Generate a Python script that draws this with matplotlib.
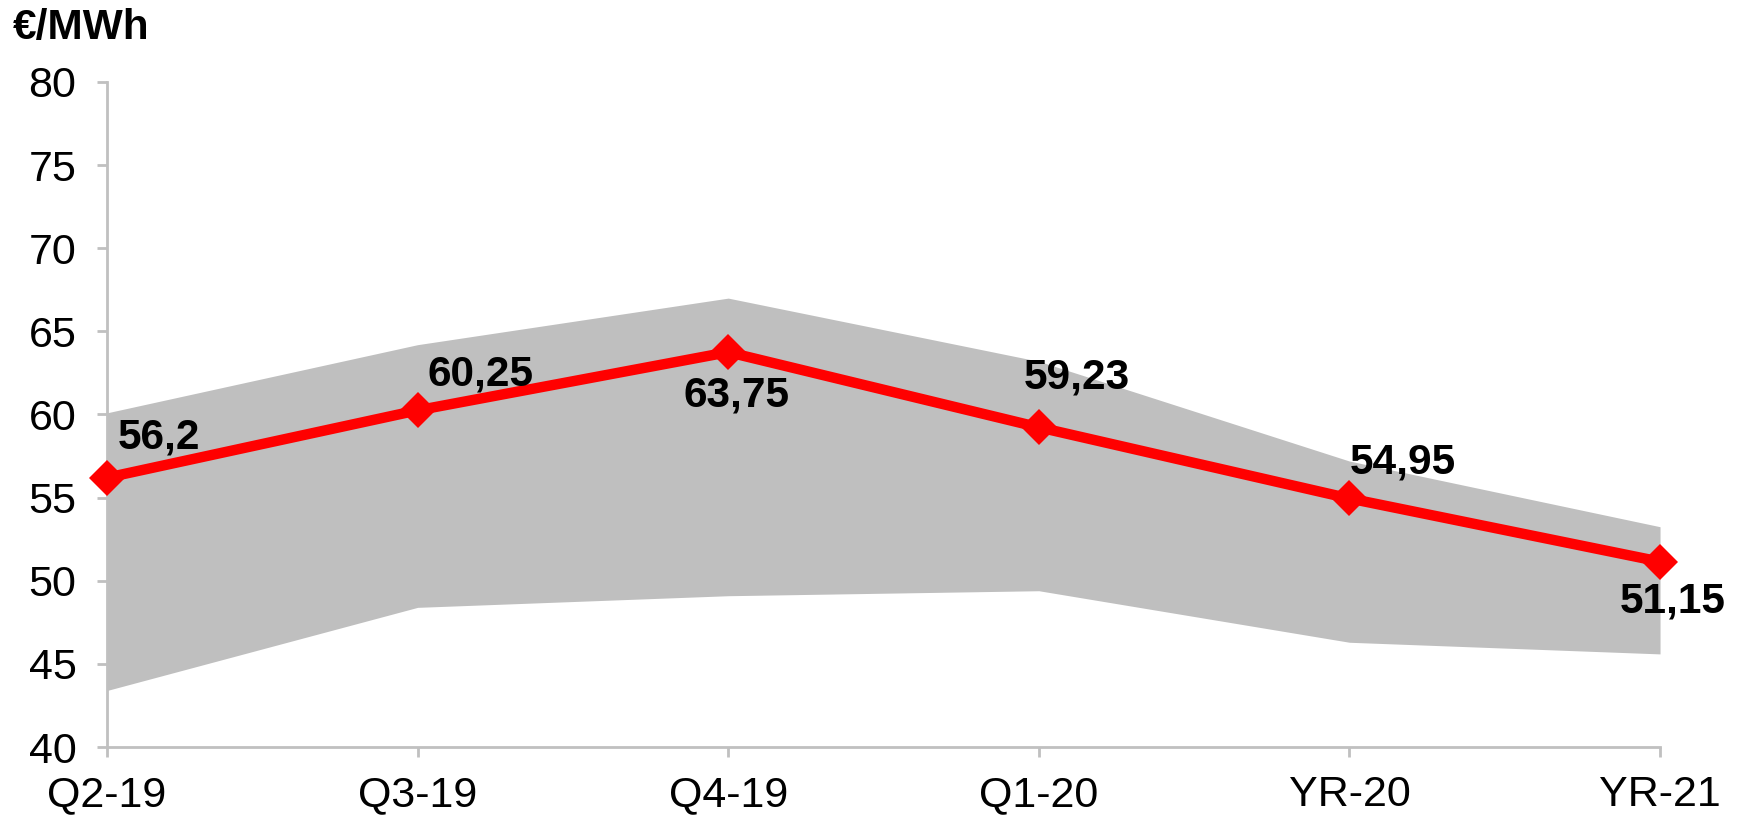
import matplotlib
matplotlib.use("Agg")
import matplotlib.pyplot as plt

plt.rcParams['font.family'] = ['Liberation Sans', 'DejaVu Sans']

categories = ["Q2-19", "Q3-19", "Q4-19", "Q1-20", "YR-20", "YR-21"]
prices = [56.2, 60.25, 63.75, 59.23, 54.95, 51.15]
price_labels = ["56,2", "60,25", "63,75", "59,23", "54,95", "51,15"]
band_high = [60.1, 64.2, 67.0, 63.2, 57.2, 53.25]
band_low = [43.4, 48.4, 49.1, 49.4, 46.3, 45.6]

# label offsets (points) and alignment
label_offsets = [(8, 29), (7, 26), (6, -31), (-11, 36), (0, 26), (9, -29)]
label_ha = ["left", "left", "center", "left", "left", "center"]

fig = plt.figure(figsize=(17.43, 8.19), dpi=100)
ax = fig.add_axes([0.0614, 0.0879, 0.891, 0.812])

x = list(range(len(categories)))
ax.fill_between(x, band_low, band_high, color="#BFBFBF", linewidth=0, zorder=1)
ax.plot(x, prices, color="#FF0000", linewidth=7.5, marker="D", markersize=18,
        markeredgewidth=0, zorder=3, clip_on=False)

for xi, yi, lab, off, ha in zip(x, prices, price_labels, label_offsets, label_ha):
    ax.annotate(lab, (xi, yi), xytext=off, textcoords="offset points",
                ha=ha, va="center", fontsize=30.5, fontweight="bold", color="black", zorder=4)

ax.set_xlim(0, 5)
ax.set_ylim(40, 80)
ax.set_yticks(range(40, 81, 5))
ax.set_xticks(x)
ax.set_xticklabels(categories)

for s in ["top", "right"]:
    ax.spines[s].set_visible(False)
for s in ["left", "bottom"]:
    ax.spines[s].set_color("#C0C0C0")
    ax.spines[s].set_linewidth(2)

ax.tick_params(axis="both", colors="#C0C0C0", width=2, length=7, labelsize=31,
               labelcolor="black")
ax.tick_params(axis="y", pad=15)
ax.tick_params(axis="x", pad=13)

fig.text(0.0075, 0.966, "€/MWh", fontsize=30.5, fontweight="bold", ha="left", va="center")

fig.savefig("out.png", dpi=100)
